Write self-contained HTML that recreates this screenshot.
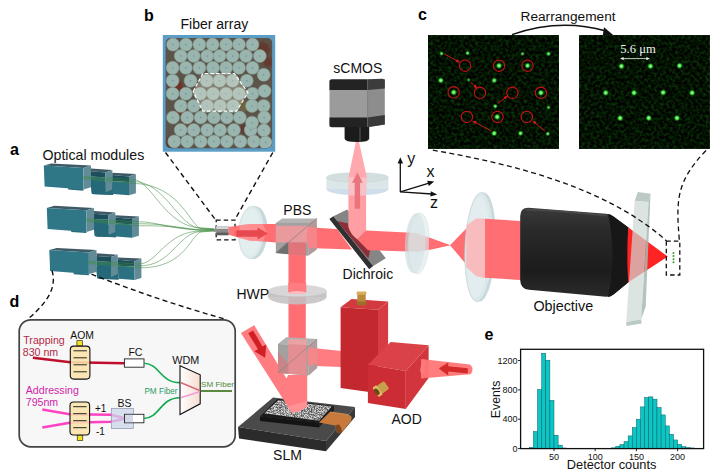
<!DOCTYPE html>
<html><head><meta charset="utf-8"><title>Figure</title>
<style>html,body{margin:0;padding:0;background:#fff;}svg{display:block;}</style></head>
<body>
<svg width="723" height="475" viewBox="0 0 723 475">
<defs>
<filter id="gnoise" x="0" y="0" width="100%" height="100%" color-interpolation-filters="sRGB">
  <feTurbulence type="fractalNoise" baseFrequency="0.33" numOctaves="2" seed="7" result="n"/>
  <feColorMatrix in="n" type="matrix" values="0.1 0 0 0 -0.035  0.5 0 0 0 -0.175  0.08 0 0 0 -0.03  0 0 0 0 1"/>
</filter>
<filter id="slmnoise" x="0" y="0" width="100%" height="100%" color-interpolation-filters="sRGB">
  <feTurbulence type="fractalNoise" baseFrequency="1.3" numOctaves="1" seed="11" result="n"/>
  <feColorMatrix in="n" type="matrix" values="3 0 0 0 -1.0  3 0 0 0 -1.0  3 0 0 0 -1.0  0 0 0 0 1"/>
  <feComposite in2="SourceGraphic" operator="in"/>
</filter>
<filter id="blur1"><feGaussianBlur stdDeviation="0.7"/></filter>
<filter id="blur05"><feGaussianBlur stdDeviation="0.45"/></filter>
<filter id="blur2"><feGaussianBlur stdDeviation="1.2"/></filter>
<radialGradient id="spot"><stop offset="0" stop-color="#c8ffc0"/><stop offset="0.45" stop-color="#3fe23f"/><stop offset="1" stop-color="#0a4a0a" stop-opacity="0"/></radialGradient>
<linearGradient id="objg" x1="0" y1="0" x2="0" y2="1"><stop offset="0" stop-color="#3a3a3a"/><stop offset="0.25" stop-color="#2a2a2a"/><stop offset="0.7" stop-color="#1c1c1c"/><stop offset="1" stop-color="#2b2b2b"/></linearGradient>
<linearGradient id="wdmg" x1="0" y1="0" x2="1" y2="0"><stop offset="0" stop-color="#ffffff"/><stop offset="1" stop-color="#f6dcd0"/></linearGradient>
<linearGradient id="lensg" x1="0" y1="0" x2="1" y2="1"><stop offset="0" stop-color="#e6eff0"/><stop offset="1" stop-color="#c9dadc"/></linearGradient>
<clipPath id="fibclip"><rect x="166" y="38" width="106" height="110" rx="5"/></clipPath>
</defs>
<rect width="723" height="475" fill="#fff"/>
<text x="144" y="20.5" font-family='"Liberation Sans", sans-serif' font-size="16" font-weight="bold" fill="#000" text-anchor="start" >b</text>
<text x="10" y="155" font-family='"Liberation Sans", sans-serif' font-size="16" font-weight="bold" fill="#000" text-anchor="start" >a</text>
<text x="418" y="20" font-family='"Liberation Sans", sans-serif' font-size="16" font-weight="bold" fill="#000" text-anchor="start" >c</text>
<text x="9.5" y="306.5" font-family='"Liberation Sans", sans-serif' font-size="16" font-weight="bold" fill="#000" text-anchor="start" >d</text>
<text x="484.5" y="339.8" font-family='"Liberation Sans", sans-serif' font-size="16" font-weight="bold" fill="#000" text-anchor="start" >e</text>
<text x="180.5" y="29" font-family='"Liberation Sans", sans-serif' font-size="14" font-weight="normal" fill="#111" text-anchor="start" >Fiber array</text>
<rect x="162.8" y="35" width="112.4" height="116.7" fill="#5b9dc4"/>
<rect x="165.7" y="38.3" width="106.4" height="110" rx="5" fill="#4b3a30"/>
<g clip-path="url(#fibclip)">
<rect x="165" y="38" width="108" height="111" fill="#57483c"/>
<g filter="url(#blur2)"><circle cx="176" cy="86" r="7" fill="#6b2418"/><circle cx="181" cy="110" r="6" fill="#6b2a1a"/><circle cx="262" cy="50" r="8" fill="#5f2a1e"/><circle cx="243" cy="106" r="6" fill="#6a5a30"/><circle cx="244" cy="129" r="5" fill="#5a2a20"/><circle cx="170" cy="142" r="5" fill="#5a2a20"/><circle cx="268" cy="62" r="5" fill="#5f2a1e"/><circle cx="188" cy="122" r="4" fill="#6a3a20"/></g>
<g filter="url(#blur05)">
<circle cx="173" cy="44.6" r="6.5" fill="#9cb8ad" stroke="#80998f" stroke-width="0.5"/>
<circle cx="185.9" cy="44.6" r="6.5" fill="#9cb8ad" stroke="#80998f" stroke-width="0.5"/>
<circle cx="199.4" cy="44.6" r="6.5" fill="#9cb8ad" stroke="#80998f" stroke-width="0.5"/>
<circle cx="212.6" cy="44.6" r="6.5" fill="#9cb8ad" stroke="#80998f" stroke-width="0.5"/>
<circle cx="226.1" cy="44.6" r="6.5" fill="#9cb8ad" stroke="#80998f" stroke-width="0.5"/>
<circle cx="239" cy="44.6" r="6.5" fill="#9cb8ad" stroke="#80998f" stroke-width="0.5"/>
<circle cx="252.5" cy="44.6" r="6.5" fill="#9cb8ad" stroke="#80998f" stroke-width="0.5"/>
<circle cx="180.7" cy="56" r="6.5" fill="#9cb8ad" stroke="#80998f" stroke-width="0.5"/>
<circle cx="193.7" cy="56" r="6.5" fill="#9cb8ad" stroke="#80998f" stroke-width="0.5"/>
<circle cx="207.2" cy="56" r="6.5" fill="#9cb8ad" stroke="#80998f" stroke-width="0.5"/>
<circle cx="219.6" cy="56" r="6.5" fill="#9cb8ad" stroke="#80998f" stroke-width="0.5"/>
<circle cx="232.6" cy="56" r="6.5" fill="#9cb8ad" stroke="#80998f" stroke-width="0.5"/>
<circle cx="246" cy="56" r="6.5" fill="#9cb8ad" stroke="#80998f" stroke-width="0.5"/>
<circle cx="259.8" cy="56" r="6.5" fill="#9cb8ad" stroke="#80998f" stroke-width="0.5"/>
<circle cx="172.6" cy="67.8" r="6.5" fill="#9cb8ad" stroke="#80998f" stroke-width="0.5"/>
<circle cx="185.9" cy="67.8" r="6.5" fill="#9cb8ad" stroke="#80998f" stroke-width="0.5"/>
<circle cx="199.4" cy="67.8" r="6.5" fill="#9cb8ad" stroke="#80998f" stroke-width="0.5"/>
<circle cx="213" cy="67.8" r="6.5" fill="#9cb8ad" stroke="#80998f" stroke-width="0.5"/>
<circle cx="226.1" cy="67.8" r="6.5" fill="#9cb8ad" stroke="#80998f" stroke-width="0.5"/>
<circle cx="239" cy="67.8" r="6.5" fill="#9cb8ad" stroke="#80998f" stroke-width="0.5"/>
<circle cx="252.5" cy="67.8" r="6.5" fill="#9cb8ad" stroke="#80998f" stroke-width="0.5"/>
<circle cx="172.6" cy="80.7" r="6.5" fill="#9cb8ad" stroke="#80998f" stroke-width="0.5"/>
<circle cx="190.6" cy="80.7" r="6.5" fill="#9cb8ad" stroke="#80998f" stroke-width="0.5"/>
<circle cx="206.7" cy="80.7" r="6.5" fill="#9cb8ad" stroke="#80998f" stroke-width="0.5"/>
<circle cx="219.6" cy="80.7" r="6.5" fill="#9cb8ad" stroke="#80998f" stroke-width="0.5"/>
<circle cx="232.6" cy="80.7" r="6.5" fill="#9cb8ad" stroke="#80998f" stroke-width="0.5"/>
<circle cx="246.8" cy="80.7" r="6.5" fill="#9cb8ad" stroke="#80998f" stroke-width="0.5"/>
<circle cx="172.6" cy="93.7" r="6.5" fill="#9cb8ad" stroke="#80998f" stroke-width="0.5"/>
<circle cx="185.9" cy="93.7" r="6.5" fill="#9cb8ad" stroke="#80998f" stroke-width="0.5"/>
<circle cx="200.2" cy="93.7" r="6.5" fill="#9cb8ad" stroke="#80998f" stroke-width="0.5"/>
<circle cx="213.1" cy="93.7" r="6.5" fill="#9cb8ad" stroke="#80998f" stroke-width="0.5"/>
<circle cx="226.1" cy="93.7" r="6.5" fill="#9cb8ad" stroke="#80998f" stroke-width="0.5"/>
<circle cx="239" cy="93.7" r="6.5" fill="#9cb8ad" stroke="#80998f" stroke-width="0.5"/>
<circle cx="252.5" cy="93.7" r="6.5" fill="#9cb8ad" stroke="#80998f" stroke-width="0.5"/>
<circle cx="180.7" cy="105.9" r="6.5" fill="#9cb8ad" stroke="#80998f" stroke-width="0.5"/>
<circle cx="193.7" cy="105.9" r="6.5" fill="#9cb8ad" stroke="#80998f" stroke-width="0.5"/>
<circle cx="207.2" cy="105.9" r="6.5" fill="#9cb8ad" stroke="#80998f" stroke-width="0.5"/>
<circle cx="220.1" cy="105.9" r="6.5" fill="#9cb8ad" stroke="#80998f" stroke-width="0.5"/>
<circle cx="233.1" cy="105.9" r="6.5" fill="#9cb8ad" stroke="#80998f" stroke-width="0.5"/>
<circle cx="252" cy="105.9" r="6.5" fill="#9cb8ad" stroke="#80998f" stroke-width="0.5"/>
<circle cx="263.7" cy="105.9" r="6.5" fill="#9cb8ad" stroke="#80998f" stroke-width="0.5"/>
<circle cx="173" cy="117.5" r="6.5" fill="#9cb8ad" stroke="#80998f" stroke-width="0.5"/>
<circle cx="187.2" cy="117.5" r="6.5" fill="#9cb8ad" stroke="#80998f" stroke-width="0.5"/>
<circle cx="200.7" cy="117.5" r="6.5" fill="#9cb8ad" stroke="#80998f" stroke-width="0.5"/>
<circle cx="213.9" cy="117.5" r="6.5" fill="#9cb8ad" stroke="#80998f" stroke-width="0.5"/>
<circle cx="226.9" cy="117.5" r="6.5" fill="#9cb8ad" stroke="#80998f" stroke-width="0.5"/>
<circle cx="239.8" cy="117.5" r="6.5" fill="#9cb8ad" stroke="#80998f" stroke-width="0.5"/>
<circle cx="180.7" cy="130" r="6.5" fill="#9cb8ad" stroke="#80998f" stroke-width="0.5"/>
<circle cx="193.7" cy="130" r="6.5" fill="#9cb8ad" stroke="#80998f" stroke-width="0.5"/>
<circle cx="207.2" cy="130" r="6.5" fill="#9cb8ad" stroke="#80998f" stroke-width="0.5"/>
<circle cx="220.1" cy="130" r="6.5" fill="#9cb8ad" stroke="#80998f" stroke-width="0.5"/>
<circle cx="233.9" cy="130" r="6.5" fill="#9cb8ad" stroke="#80998f" stroke-width="0.5"/>
<circle cx="250.7" cy="130" r="6.5" fill="#9cb8ad" stroke="#80998f" stroke-width="0.5"/>
<circle cx="174.3" cy="141.4" r="6.5" fill="#9cb8ad" stroke="#80998f" stroke-width="0.5"/>
<circle cx="187.2" cy="141.4" r="6.5" fill="#9cb8ad" stroke="#80998f" stroke-width="0.5"/>
<circle cx="200.7" cy="141.4" r="6.5" fill="#9cb8ad" stroke="#80998f" stroke-width="0.5"/>
<circle cx="213.9" cy="141.4" r="6.5" fill="#9cb8ad" stroke="#80998f" stroke-width="0.5"/>
<circle cx="226.9" cy="141.4" r="6.5" fill="#9cb8ad" stroke="#80998f" stroke-width="0.5"/>
<circle cx="240.4" cy="141.4" r="6.5" fill="#9cb8ad" stroke="#80998f" stroke-width="0.5"/>
<circle cx="253.8" cy="141.4" r="6.5" fill="#9cb8ad" stroke="#80998f" stroke-width="0.5"/>
<circle cx="263.7" cy="74.8" r="6.5" fill="#9cb8ad" stroke="#80998f" stroke-width="0.5"/>
<circle cx="264.5" cy="91" r="6.5" fill="#9cb8ad" stroke="#80998f" stroke-width="0.5"/>
<circle cx="252" cy="122.7" r="6.5" fill="#9cb8ad" stroke="#80998f" stroke-width="0.5"/>
<circle cx="264.2" cy="117.4" r="6.5" fill="#9cb8ad" stroke="#80998f" stroke-width="0.5"/>
<circle cx="263.9" cy="130.3" r="6.5" fill="#9cb8ad" stroke="#80998f" stroke-width="0.5"/>
<circle cx="265.6" cy="142.6" r="6.5" fill="#9cb8ad" stroke="#80998f" stroke-width="0.5"/>
</g>
<circle cx="173" cy="44.6" r="0.75" fill="#5a78a8" opacity="0.75"/>
<circle cx="185.9" cy="44.6" r="0.75" fill="#5a78a8" opacity="0.75"/>
<circle cx="199.4" cy="44.6" r="0.75" fill="#5a78a8" opacity="0.75"/>
<circle cx="212.6" cy="44.6" r="0.75" fill="#5a78a8" opacity="0.75"/>
<circle cx="226.1" cy="44.6" r="0.75" fill="#5a78a8" opacity="0.75"/>
<circle cx="239" cy="44.6" r="0.75" fill="#5a78a8" opacity="0.75"/>
<circle cx="252.5" cy="44.6" r="0.75" fill="#5a78a8" opacity="0.75"/>
<circle cx="180.7" cy="56" r="0.75" fill="#5a78a8" opacity="0.75"/>
<circle cx="193.7" cy="56" r="0.75" fill="#5a78a8" opacity="0.75"/>
<circle cx="207.2" cy="56" r="0.75" fill="#5a78a8" opacity="0.75"/>
<circle cx="219.6" cy="56" r="0.75" fill="#5a78a8" opacity="0.75"/>
<circle cx="232.6" cy="56" r="0.75" fill="#5a78a8" opacity="0.75"/>
<circle cx="246" cy="56" r="0.75" fill="#5a78a8" opacity="0.75"/>
<circle cx="259.8" cy="56" r="0.75" fill="#5a78a8" opacity="0.75"/>
<circle cx="172.6" cy="67.8" r="0.75" fill="#5a78a8" opacity="0.75"/>
<circle cx="185.9" cy="67.8" r="0.75" fill="#5a78a8" opacity="0.75"/>
<circle cx="199.4" cy="67.8" r="0.75" fill="#5a78a8" opacity="0.75"/>
<circle cx="213" cy="67.8" r="0.75" fill="#5a78a8" opacity="0.75"/>
<circle cx="226.1" cy="67.8" r="0.75" fill="#5a78a8" opacity="0.75"/>
<circle cx="239" cy="67.8" r="0.75" fill="#5a78a8" opacity="0.75"/>
<circle cx="252.5" cy="67.8" r="0.75" fill="#5a78a8" opacity="0.75"/>
<circle cx="172.6" cy="80.7" r="0.75" fill="#5a78a8" opacity="0.75"/>
<circle cx="190.6" cy="80.7" r="0.75" fill="#5a78a8" opacity="0.75"/>
<circle cx="206.7" cy="80.7" r="0.75" fill="#5a78a8" opacity="0.75"/>
<circle cx="219.6" cy="80.7" r="0.75" fill="#5a78a8" opacity="0.75"/>
<circle cx="232.6" cy="80.7" r="0.75" fill="#5a78a8" opacity="0.75"/>
<circle cx="246.8" cy="80.7" r="0.75" fill="#5a78a8" opacity="0.75"/>
<circle cx="172.6" cy="93.7" r="0.75" fill="#5a78a8" opacity="0.75"/>
<circle cx="185.9" cy="93.7" r="0.75" fill="#5a78a8" opacity="0.75"/>
<circle cx="200.2" cy="93.7" r="0.75" fill="#5a78a8" opacity="0.75"/>
<circle cx="213.1" cy="93.7" r="0.75" fill="#5a78a8" opacity="0.75"/>
<circle cx="226.1" cy="93.7" r="0.75" fill="#5a78a8" opacity="0.75"/>
<circle cx="239" cy="93.7" r="0.75" fill="#5a78a8" opacity="0.75"/>
<circle cx="252.5" cy="93.7" r="0.75" fill="#5a78a8" opacity="0.75"/>
<circle cx="180.7" cy="105.9" r="0.75" fill="#5a78a8" opacity="0.75"/>
<circle cx="193.7" cy="105.9" r="0.75" fill="#5a78a8" opacity="0.75"/>
<circle cx="207.2" cy="105.9" r="0.75" fill="#5a78a8" opacity="0.75"/>
<circle cx="220.1" cy="105.9" r="0.75" fill="#5a78a8" opacity="0.75"/>
<circle cx="233.1" cy="105.9" r="0.75" fill="#5a78a8" opacity="0.75"/>
<circle cx="252" cy="105.9" r="0.75" fill="#5a78a8" opacity="0.75"/>
<circle cx="263.7" cy="105.9" r="0.75" fill="#5a78a8" opacity="0.75"/>
<circle cx="173" cy="117.5" r="0.75" fill="#5a78a8" opacity="0.75"/>
<circle cx="187.2" cy="117.5" r="0.75" fill="#5a78a8" opacity="0.75"/>
<circle cx="200.7" cy="117.5" r="0.75" fill="#5a78a8" opacity="0.75"/>
<circle cx="213.9" cy="117.5" r="0.75" fill="#5a78a8" opacity="0.75"/>
<circle cx="226.9" cy="117.5" r="0.75" fill="#5a78a8" opacity="0.75"/>
<circle cx="239.8" cy="117.5" r="0.75" fill="#5a78a8" opacity="0.75"/>
<circle cx="180.7" cy="130" r="0.75" fill="#5a78a8" opacity="0.75"/>
<circle cx="193.7" cy="130" r="0.75" fill="#5a78a8" opacity="0.75"/>
<circle cx="207.2" cy="130" r="0.75" fill="#5a78a8" opacity="0.75"/>
<circle cx="220.1" cy="130" r="0.75" fill="#5a78a8" opacity="0.75"/>
<circle cx="233.9" cy="130" r="0.75" fill="#5a78a8" opacity="0.75"/>
<circle cx="250.7" cy="130" r="0.75" fill="#5a78a8" opacity="0.75"/>
<circle cx="174.3" cy="141.4" r="0.75" fill="#5a78a8" opacity="0.75"/>
<circle cx="187.2" cy="141.4" r="0.75" fill="#5a78a8" opacity="0.75"/>
<circle cx="200.7" cy="141.4" r="0.75" fill="#5a78a8" opacity="0.75"/>
<circle cx="213.9" cy="141.4" r="0.75" fill="#5a78a8" opacity="0.75"/>
<circle cx="226.9" cy="141.4" r="0.75" fill="#5a78a8" opacity="0.75"/>
<circle cx="240.4" cy="141.4" r="0.75" fill="#5a78a8" opacity="0.75"/>
<circle cx="253.8" cy="141.4" r="0.75" fill="#5a78a8" opacity="0.75"/>
<circle cx="263.7" cy="74.8" r="0.75" fill="#5a78a8" opacity="0.75"/>
<circle cx="264.5" cy="91" r="0.75" fill="#5a78a8" opacity="0.75"/>
<circle cx="252" cy="122.7" r="0.75" fill="#5a78a8" opacity="0.75"/>
<circle cx="264.2" cy="117.4" r="0.75" fill="#5a78a8" opacity="0.75"/>
<circle cx="263.9" cy="130.3" r="0.75" fill="#5a78a8" opacity="0.75"/>
<circle cx="265.6" cy="142.6" r="0.75" fill="#5a78a8" opacity="0.75"/>
<rect x="165" y="38" width="108" height="111" fill="#8aa6b0" opacity="0.12"/>
</g>
<polygon points="193.2,91.5 202.8,73.5 234.2,73.5 248.0,92.6 236.5,111.1 202.8,111.1" fill="#f3efe0" stroke="#ffffff" stroke-width="1.2" opacity="1" fill-opacity="0.28" stroke-dasharray="3.6,2"/>
<path d="M165.5,152.5 L215.8,220.2 M272.8,152.5 L235,219.5" stroke="#111" stroke-width="1.4" stroke-dasharray="5,3.6" fill="none"/>
<rect x="216.2" y="220.1" width="18.8" height="19.8" fill="none" stroke="#111" stroke-width="1.3" stroke-dasharray="4.5,3"/>
<text x="42.5" y="159.8" font-family='"Liberation Sans", sans-serif' font-size="14.2" font-weight="normal" fill="#111" text-anchor="start" >Optical modules</text>
<polygon points="91.0,182.3 113.1,182.3 113.1,194.8 91.8,193.9" fill="#286b7a" stroke="none" stroke-width="0" opacity="1" />
<polygon points="68.2,187.5 83.4,189.1 83.4,190.7 68.2,189.6" fill="#2a6a79" stroke="none" stroke-width="0" opacity="1" />
<polygon points="43.8,165.5 51.4,163.4 91.0,165.5 83.4,167.9" fill="#3f5a66" stroke="none" stroke-width="0" opacity="1" />
<polygon points="43.8,165.5 83.4,167.9 83.4,189.5 44.6,186.5" fill="#2f7787" stroke="none" stroke-width="0" opacity="1" />
<polygon points="83.4,167.9 91.0,165.5 91.0,187.3 83.4,189.5" fill="#618c97" stroke="none" stroke-width="0" opacity="1" />
<polygon points="91.0,168.6 112.3,170.1 105.5,172.5 91.0,171.3" fill="#3f5a66" stroke="none" stroke-width="0" opacity="1" />
<polygon points="91.0,171.3 105.5,172.5 105.5,177.4 91.0,176.6" fill="#1c4e5b" stroke="none" stroke-width="0" opacity="1" />
<polygon points="91.0,176.6 105.5,177.4 105.5,192.3 91.8,193.3 91.0,187.3" fill="#256877" stroke="none" stroke-width="0" opacity="1" />
<polygon points="105.5,172.5 112.3,170.1 112.3,189.5 105.5,192.3" fill="#618c97" stroke="none" stroke-width="0" opacity="1" />
<polygon points="91.8,192.9 113.1,193.7 113.1,194.9 93.8,194.3" fill="#2a6a79" stroke="none" stroke-width="0" opacity="1" />
<polygon points="112.3,172.8 135.9,174.0 129.0,176.6 112.3,175.1" fill="#3f5a66" stroke="none" stroke-width="0" opacity="1" />
<polygon points="112.3,175.1 129.0,176.6 129.0,181.9 112.3,181.2" fill="#1c4e5b" stroke="none" stroke-width="0" opacity="1" />
<polygon points="112.3,181.2 129.0,181.9 129.0,195.3 113.1,194.1" fill="#2b7181" stroke="none" stroke-width="0" opacity="1" />
<polygon points="129.0,176.6 135.9,174.0 135.9,193.3 129.0,195.3" fill="#618c97" stroke="none" stroke-width="0" opacity="1" />
<polygon points="94.0,224.7 116.1,224.7 116.1,237.2 94.8,236.3" fill="#286b7a" stroke="none" stroke-width="0" opacity="1" />
<polygon points="71.2,229.9 86.4,231.5 86.4,233.1 71.2,232.0" fill="#2a6a79" stroke="none" stroke-width="0" opacity="1" />
<polygon points="46.8,207.9 54.4,205.8 94.0,207.9 86.4,210.3" fill="#3f5a66" stroke="none" stroke-width="0" opacity="1" />
<polygon points="46.8,207.9 86.4,210.3 86.4,231.9 47.6,228.9" fill="#2f7787" stroke="none" stroke-width="0" opacity="1" />
<polygon points="86.4,210.3 94.0,207.9 94.0,229.7 86.4,231.9" fill="#618c97" stroke="none" stroke-width="0" opacity="1" />
<polygon points="94.0,210.9 115.3,212.5 108.5,214.9 94.0,213.7" fill="#3f5a66" stroke="none" stroke-width="0" opacity="1" />
<polygon points="94.0,213.7 108.5,214.9 108.5,219.8 94.0,219.0" fill="#1c4e5b" stroke="none" stroke-width="0" opacity="1" />
<polygon points="94.0,219.0 108.5,219.8 108.5,234.7 94.8,235.7 94.0,229.7" fill="#256877" stroke="none" stroke-width="0" opacity="1" />
<polygon points="108.5,214.9 115.3,212.5 115.3,231.9 108.5,234.7" fill="#618c97" stroke="none" stroke-width="0" opacity="1" />
<polygon points="94.8,235.3 116.1,236.1 116.1,237.3 96.8,236.7" fill="#2a6a79" stroke="none" stroke-width="0" opacity="1" />
<polygon points="115.3,215.2 138.9,216.4 132.0,219.0 115.3,217.5" fill="#3f5a66" stroke="none" stroke-width="0" opacity="1" />
<polygon points="115.3,217.5 132.0,219.0 132.0,224.3 115.3,223.6" fill="#1c4e5b" stroke="none" stroke-width="0" opacity="1" />
<polygon points="115.3,223.6 132.0,224.3 132.0,237.7 116.1,236.5" fill="#2b7181" stroke="none" stroke-width="0" opacity="1" />
<polygon points="132.0,219.0 138.9,216.4 138.9,235.7 132.0,237.7" fill="#618c97" stroke="none" stroke-width="0" opacity="1" />
<polygon points="96.5,266.9 118.6,266.9 118.6,279.4 97.3,278.5" fill="#286b7a" stroke="none" stroke-width="0" opacity="1" />
<polygon points="73.7,272.1 88.9,273.7 88.9,275.3 73.7,274.2" fill="#2a6a79" stroke="none" stroke-width="0" opacity="1" />
<polygon points="49.3,250.1 56.9,248.0 96.5,250.1 88.9,252.5" fill="#3f5a66" stroke="none" stroke-width="0" opacity="1" />
<polygon points="49.3,250.1 88.9,252.5 88.9,274.1 50.1,271.1" fill="#2f7787" stroke="none" stroke-width="0" opacity="1" />
<polygon points="88.9,252.5 96.5,250.1 96.5,271.9 88.9,274.1" fill="#618c97" stroke="none" stroke-width="0" opacity="1" />
<polygon points="96.5,253.2 117.8,254.7 111.0,257.1 96.5,255.9" fill="#3f5a66" stroke="none" stroke-width="0" opacity="1" />
<polygon points="96.5,255.9 111.0,257.1 111.0,262.0 96.5,261.2" fill="#1c4e5b" stroke="none" stroke-width="0" opacity="1" />
<polygon points="96.5,261.2 111.0,262.0 111.0,276.9 97.3,277.9 96.5,271.9" fill="#256877" stroke="none" stroke-width="0" opacity="1" />
<polygon points="111.0,257.1 117.8,254.7 117.8,274.1 111.0,276.9" fill="#618c97" stroke="none" stroke-width="0" opacity="1" />
<polygon points="97.3,277.5 118.6,278.3 118.6,279.5 99.3,278.9" fill="#2a6a79" stroke="none" stroke-width="0" opacity="1" />
<polygon points="117.8,257.4 141.4,258.6 134.5,261.2 117.8,259.7" fill="#3f5a66" stroke="none" stroke-width="0" opacity="1" />
<polygon points="117.8,259.7 134.5,261.2 134.5,266.5 117.8,265.8" fill="#1c4e5b" stroke="none" stroke-width="0" opacity="1" />
<polygon points="117.8,265.8 134.5,266.5 134.5,279.9 118.6,278.7" fill="#2b7181" stroke="none" stroke-width="0" opacity="1" />
<polygon points="134.5,261.2 141.4,258.6 141.4,277.9 134.5,279.9" fill="#618c97" stroke="none" stroke-width="0" opacity="1" />
<path d="M83.4,176.5 L132.9,179.3 C151.9,180.3 165.0,227.9 202.0,227.9 L214.5,228.8" stroke="#3f8a3f" stroke-width="0.6" fill="none" opacity="0.9"/>
<path d="M83.4,177.7 L132.9,181.3 C166.9,182.3 178.0,228.4 202.0,228.4 L214.5,229.1" stroke="#3f8a3f" stroke-width="0.6" fill="none" opacity="0.9"/>
<path d="M83.4,178.9 L132.9,183.3 C181.9,184.3 191.0,228.9 202.0,228.9 L214.5,229.4" stroke="#3f8a3f" stroke-width="0.6" fill="none" opacity="0.9"/>
<path d="M86.4,218.9 L135.9,221.7 C160.9,221.7 165.0,229.4 202.0,229.4 L214.5,229.6" stroke="#3f8a3f" stroke-width="0.6" fill="none" opacity="0.9"/>
<path d="M86.4,220.1 L135.9,223.7 C175.9,223.7 178.0,229.9 202.0,229.9 L214.5,229.9" stroke="#3f8a3f" stroke-width="0.6" fill="none" opacity="0.9"/>
<path d="M86.4,221.3 L135.9,225.7 C190.9,225.7 191.0,230.4 202.0,230.4 L214.5,230.2" stroke="#3f8a3f" stroke-width="0.6" fill="none" opacity="0.9"/>
<path d="M88.9,261.1 L138.4,263.9 C157.4,264.9 165.0,230.9 202.0,230.9 L214.5,230.4" stroke="#3f8a3f" stroke-width="0.6" fill="none" opacity="0.9"/>
<path d="M88.9,262.3 L138.4,265.9 C172.4,266.9 178.0,231.4 202.0,231.4 L214.5,230.7" stroke="#3f8a3f" stroke-width="0.6" fill="none" opacity="0.9"/>
<path d="M88.9,263.5 L138.4,267.9 C187.4,268.9 191.0,231.9 202.0,231.9 L214.5,231.0" stroke="#3f8a3f" stroke-width="0.6" fill="none" opacity="0.9"/>
<rect x="213.5" y="229.2" width="3" height="2.6" fill="#8c8c8c"/>
<rect x="216.2" y="226.2" width="12.4" height="9" fill="#8a8a8a"/>
<rect x="216.2" y="226.2" width="12.4" height="2.8" fill="#d4d4d4"/>
<rect x="216.2" y="232.6" width="12.4" height="2.6" fill="#5c5c5c"/>
<ellipse cx="254.4" cy="232.6" rx="13.2" ry="26.4" fill="#c6d8da" transform="rotate(3 254.4 232.6)"/>
<ellipse cx="251.4" cy="232.4" rx="12.8" ry="26.2" fill="#dde9ea" stroke="#c9d8da" stroke-width="0.6" transform="rotate(3 251.4 232.4)"/>
<ellipse cx="250.6" cy="232.4" rx="10.8" ry="23.6" fill="#e6efef" opacity="0.7" transform="rotate(3 250.6 232.4)"/>
<polygon points="228.6,226.9 249.0,224.1 249.0,240.5 228.6,234.8" fill="#ff6a6e" stroke="none" stroke-width="0" opacity="0.92" />
<polygon points="239.5,225.4 249.0,224.1 249.0,240.5 239.5,238.4" fill="#ffb0b2" stroke="none" stroke-width="0" opacity="0.5" />
<polygon points="249.0,224.1 276.0,224.1 276.0,242.4 249.0,240.5" fill="#ff6e72" stroke="none" stroke-width="0" opacity="1" />
<polygon points="249.0,224.1 263.0,224.1 266.4,232.5 263.0,241.6 249.0,240.5" fill="#ffa6a8" stroke="none" stroke-width="0" opacity="0.55" />
<polygon points="236.3,230.2 257.6,230.2 257.6,227.4 267.9,233.4 257.6,239.5 257.6,236.8 236.3,236.8" fill="#e5434a" stroke="none" stroke-width="0" opacity="0.92" />
<polygon points="288.5,250.0 305.8,250.0 305.8,345.0 288.5,345.0" fill="#ff6e72" stroke="none" stroke-width="0" opacity="1" />
<polygon points="308.0,227.2 337.0,229.0 352.0,249.6 308.0,247.9" fill="#ff6e72" stroke="none" stroke-width="0" opacity="1" />
<polygon points="333.4,216.3 347.1,209.5 385.8,258.2 373.2,266.1" fill="#858585" stroke="none" stroke-width="0" opacity="1" />
<polygon points="337.0,221.0 348.4,223.5 348.4,227.0 357.5,239.0 370.0,250.5 368.4,258.6" fill="#8c2f38" stroke="none" stroke-width="0" opacity="1" />
<path d="M348.4,186 H366.1 V230.6 L357.5,239.5 Q350,234 348.4,226.5 Z" fill="#ff9fa4"/>
<polygon points="366.1,230.5 417.0,233.0 417.0,251.8 368.0,250.2 357.5,239.5" fill="#ff6e72" stroke="none" stroke-width="0" opacity="1" />
<polygon points="329.3,219.0 333.4,216.3 373.2,266.1 369.2,269.2" fill="#303030" stroke="none" stroke-width="0" opacity="1" />
<text x="342.6" y="279.1" font-family='"Liberation Sans", sans-serif' font-size="14" font-weight="normal" fill="#111" text-anchor="start" >Dichroic</text>
<polygon points="275.8,223.1 282.1,218.4 316.9,218.4 308.2,223.1" fill="#b4b4b4" stroke="none" stroke-width="0" opacity="1" />
<polygon points="275.8,223.1 308.2,223.1 308.2,255.8 275.8,253.1" fill="#a2a0a0" stroke="none" stroke-width="0" opacity="1" />
<polygon points="308.2,223.1 316.9,218.4 316.9,249.5 308.2,255.8" fill="#b09a9a" stroke="none" stroke-width="0" opacity="1" />
<polygon points="275.8,253.1 288.5,241.0 288.5,254.2" fill="#6f6f6f" stroke="none" stroke-width="0" opacity="1" />
<polygon points="275.8,225.8 308.2,225.8 308.2,242.4 275.8,242.4" fill="#e89a9c" stroke="none" stroke-width="0" opacity="1" />
<polygon points="288.5,242.4 305.8,242.4 305.8,255.6 288.5,254.2" fill="#e07478" stroke="none" stroke-width="0" opacity="1" />
<path d="M308.2,226.8 L316.9,227.6 L316.9,247.6 L308.2,248.4 Q305.4,237.5 308.2,226.8Z" fill="#f58588"/>
<line x1="275.8" y1="253.1" x2="316.9" y2="218.4" stroke="#8d7f7f" stroke-width="0.9" opacity="0.8"/>
<text x="283.3" y="215.3" font-family='"Liberation Sans", sans-serif' font-size="14" font-weight="normal" fill="#111" text-anchor="start" >PBS</text>
<ellipse cx="297.3" cy="296.8" rx="29.3" ry="7.6" fill="#c4c1c1" opacity="0.88"/>
<rect x="268" y="290.6" width="58.6" height="6.2" fill="#c4c1c1" opacity="0.88"/>
<ellipse cx="297.3" cy="290.6" rx="29.3" ry="5.8" fill="#d8d6d6"/>
<path d="M288.2,283 H306.3 V291.2 Q306.3,294 297.3,294 Q288.2,294 288.2,291.2 Z" fill="#ff7c80"/>
<ellipse cx="297.3" cy="292.6" rx="8" ry="1.6" fill="#ffc9cb" opacity="0.8"/>
<text x="236.4" y="298.5" font-family='"Liberation Sans", sans-serif' font-size="14" font-weight="normal" fill="#111" text-anchor="start" >HWP</text>
<ellipse cx="357.4" cy="189" rx="31" ry="6.3" fill="#cfdeea"/>
<rect x="326.4" y="177.4" width="62" height="11.6" fill="#dbe6e8"/>
<ellipse cx="357.4" cy="177.4" rx="31" ry="4.8" fill="#d3dfde" stroke="#c3d0d0" stroke-width="0.5"/>
<polygon points="348.5,177.0 366.9,177.0 366.1,195.5 348.4,195.5" fill="#fbbfc3" stroke="none" stroke-width="0" opacity="0.92" />
<polygon points="355.9,141.6 358.9,141.6 366.9,177.4 348.5,177.4" fill="#ffa8ad" stroke="none" stroke-width="0" opacity="1" />
<polygon points="354.7,208.7 360.1,208.7 360.1,182.8 362.8,182.8 357.4,172.6 352.0,182.8 354.7,182.8" fill="#e8727a" stroke="none" stroke-width="0" opacity="0.95" />
<polygon points="329.5,80.0 367.6,80.0 367.6,127.0 329.5,127.0" fill="#9b9b9b" stroke="none" stroke-width="0" opacity="1" />
<polygon points="367.6,80.0 384.8,79.0 384.8,124.5 367.6,127.0" fill="#8d8d8d" stroke="none" stroke-width="0" opacity="1" />
<path d="M329.5,90 V81.6 Q329.5,79.3 332,79.3 H367.6 V90 Z" fill="#232323"/>
<polygon points="367.6,79.3 382.8,78.8 384.8,80.0 384.8,88.4 367.6,90.0" fill="#3c3c3c" stroke="none" stroke-width="0" opacity="1" />
<path d="M329.5,117.6 H367.6 V127.2 H332 Q329.5,127.2 329.5,125 Z" fill="#232323"/>
<polygon points="367.6,117.6 384.8,115.0 384.8,124.5 367.6,127.2" fill="#3a3a3a" stroke="none" stroke-width="0" opacity="1" />
<line x1="367.6" y1="79.5" x2="367.6" y2="127" stroke="#6a6a6a" stroke-width="0.7"/>
<path d="M344.6,127 H369.2 V138.5 Q369.2,142 357,142 Q344.6,142 344.6,138.5 Z" fill="#1b1b1b"/>
<rect x="359" y="127.2" width="2" height="14" fill="#3a3a3a"/>
<text x="333.3" y="72.6" font-family='"Liberation Sans", sans-serif' font-size="14" font-weight="normal" fill="#111" text-anchor="start" >sCMOS</text>
<g stroke="#111" stroke-width="1.3" fill="none"><path d="M400.3,192 V161"/><path d="M400.3,191.8 L429,183.2"/><path d="M400.3,191.8 L432,194"/></g>
<polygon points="400.3,157.3 397.6,163.5 403.0,163.5" fill="#111" stroke="none" stroke-width="0" opacity="1" />
<polygon points="434.2,181.6 427.2,180.8 428.8,186.0" fill="#111" stroke="none" stroke-width="0" opacity="1" />
<polygon points="437.2,194.4 430.8,191.2 430.4,196.6" fill="#111" stroke="none" stroke-width="0" opacity="1" />
<text x="407.2" y="164" font-family='"Liberation Sans", sans-serif' font-size="16" font-weight="normal" fill="#111" text-anchor="start" >y</text>
<text x="426.6" y="176.8" font-family='"Liberation Sans", sans-serif' font-size="16" font-weight="normal" fill="#111" text-anchor="start" >x</text>
<text x="430" y="207.8" font-family='"Liberation Sans", sans-serif' font-size="16" font-weight="normal" fill="#111" text-anchor="start" >z</text>
<polygon points="416.0,233.0 450.0,245.2 416.0,252.2" fill="#ff6e72" stroke="none" stroke-width="0" opacity="1" />
<ellipse cx="415.2" cy="243.2" rx="10.2" ry="30.2" fill="#c7d9dc" opacity="0.62" transform="rotate(3 415.2 243.2)"/>
<ellipse cx="418.6" cy="243.4" rx="10.4" ry="30.4" fill="#dfeaeb" stroke="#c6d6d9" stroke-width="0.7" opacity="0.66" transform="rotate(3 418.6 243.4)"/>
<polygon points="429.0,237.6 450.0,245.2 429.0,250.0" fill="#ff6e72" stroke="none" stroke-width="0" opacity="1" />
<polygon points="450.0,245.2 476.0,218.4 482.0,218.6 482.0,277.0 476.0,275.9" fill="#ff6e72" stroke="none" stroke-width="0" opacity="1" />
<ellipse cx="481.6" cy="247" rx="14.2" ry="54.6" fill="#c9dadd" transform="rotate(2.5 481.6 247)"/>
<ellipse cx="479.2" cy="247" rx="14.2" ry="54.6" fill="#dbe8ea" stroke="#c3d3d6" stroke-width="0.7" transform="rotate(2.5 479.2 247)"/>
<ellipse cx="477.8" cy="247" rx="11.6" ry="51" fill="#e5eeef" opacity="0.75" transform="rotate(2.5 477.8 247)"/>
<polygon points="466.5,225.5 476.0,218.4 486.0,218.8 486.0,278.5 476.0,275.9 466.0,267.0" fill="#fbb4b6" stroke="none" stroke-width="0" opacity="0.85" />
<polygon points="485.0,218.8 524.0,221.2 524.0,280.2 485.0,277.8" fill="#ff6e72" stroke="none" stroke-width="0" opacity="1" />
<path d="M528.3,207.7 L606,213.7 Q610.4,214 613.5,216.4 L628.4,227.6 L628.4,282.2 L613.5,294.6 Q610.4,297 606,296.8 L529,289.8 Q520.4,289 520.2,280 L520.2,216 Q520.4,207.6 528.3,207.7 Z" fill="url(#objg)"/>
<path d="M608,213.9 Q610.4,214 613.5,216.4 L628.4,227.6 L628.4,282.2 L613.5,294.6 Q610.4,297 608,296.9 Q617,255 608,213.9Z" fill="#171717"/>
<path d="M526,209.6 Q560,210.5 607,215.6" stroke="#4e4e4e" stroke-width="1.6" fill="none" opacity="0.8"/>
<text x="533.4" y="310.9" font-family='"Liberation Sans", sans-serif' font-size="14.35" font-weight="normal" fill="#111" text-anchor="start" >Objective</text>
<ellipse cx="628.9" cy="255" rx="1.6" ry="27.3" fill="#f02222"/>
<polygon points="628.4,227.6 667.8,256.6 628.4,282.2" fill="#ff2424" stroke="none" stroke-width="0" opacity="1" />
<polygon points="637.8,191.9 650.5,193.8 648.6,202.0 634.7,200.8" fill="#b6c6c1" stroke="none" stroke-width="0" opacity="0.92" />
<polygon points="634.7,200.8 648.6,202.0 641.2,319.2 626.2,322.3" fill="#cdd9d5" stroke="none" stroke-width="0" opacity="0.7" />
<polygon points="648.6,202.0 650.5,193.8 645.7,306.5 641.2,319.2" fill="#a7b8b3" stroke="none" stroke-width="0" opacity="0.85" />
<polygon points="626.2,322.3 641.2,319.2 641.6,323.6 626.4,326.0" fill="#b3c4bf" stroke="none" stroke-width="0" opacity="0.9" />
<rect x="666.3" y="241.2" width="13.5" height="33.8" fill="none" stroke="#111" stroke-width="1.3" stroke-dasharray="4.5,3"/>
<circle cx="673.5" cy="252.9" r="1" fill="#3c9a2a"/>
<circle cx="673.5" cy="256" r="1" fill="#3c9a2a"/>
<circle cx="673.5" cy="259.2" r="1" fill="#3c9a2a"/>
<circle cx="673.5" cy="262.3" r="1" fill="#3c9a2a"/>
<polygon points="238.0,427.0 273.0,397.6 355.0,407.0 326.0,441.0" fill="#4a4a4a" stroke="none" stroke-width="0" opacity="1" />
<polygon points="238.0,427.0 326.0,441.0 326.0,451.2 239.0,438.6" fill="#2b2b2b" stroke="none" stroke-width="0" opacity="1" />
<polygon points="326.0,441.0 355.0,407.0 355.0,417.0 326.0,451.2" fill="#383838" stroke="none" stroke-width="0" opacity="1" />
<polygon points="260.0,416.4 277.6,399.0 334.0,406.0 319.0,422.4" fill="#1b1b1b" stroke="none" stroke-width="0" opacity="1" />
<polygon points="260.0,416.4 319.0,422.4 319.0,427.6 260.0,421.0" fill="#141414" stroke="none" stroke-width="0" opacity="1" />
<polygon points="319.0,422.4 334.0,406.0 334.0,410.5 319.0,427.6" fill="#1f1f1f" stroke="none" stroke-width="0" opacity="1" />
<polygon points="264.4,413.2 278.4,400.2 331.6,406.5 319,420.8" fill="#b8b8b8"/>
<polygon points="264.4,413.2 278.4,400.2 331.6,406.5 319,420.8" fill="#000" filter="url(#slmnoise)" opacity="0.55"/>
<path d="M319,422.4 L330,412 L347,414.4 Q353,417 351,421 L342,432 Q339.5,434.5 336.5,432 L335,425.5 Z" fill="#c87a3c"/>
<path d="M342,432 Q339.5,434.5 336.5,432 L335,425.5 L339,424.2 Q342,428 342,432Z" fill="#7d4520"/>
<path d="M330,412 L347,414.4 Q351,415.6 351.6,418" stroke="#dc9a5a" stroke-width="0.8" fill="none"/>
<polygon points="240.9,333.0 254.2,325.2 286.5,378.6 288.2,375.0 307.2,375.0 307.2,406.4 300.0,411.0 292.0,413.0" fill="#ff7c80" stroke="none" stroke-width="0" opacity="1" />
<polygon points="289.0,406.0 307.2,401.0 307.2,406.4 300.0,411.0 292.0,413.0 288.0,407.5" fill="#ffa0a2" stroke="none" stroke-width="0" opacity="0.55" />
<polygon points="248.2,333.2 253.0,330.4 262.4,346.6 266.3,344.4 265.1,357.7 254.4,351.2 258.0,349.2" fill="#cf2026" stroke="none" stroke-width="0" opacity="1" />
<polygon points="308.5,347.5 341.3,351.1 341.3,366.9 308.5,365.7" fill="#ff7c80" stroke="none" stroke-width="0" opacity="1" />
<text x="273.1" y="459.9" font-family='"Liberation Sans", sans-serif' font-size="14" font-weight="normal" fill="#111" text-anchor="start" >SLM</text>
<polygon points="278.0,343.9 286.2,337.3 317.2,339.0 308.7,345.0" fill="#b2b0b0" stroke="none" stroke-width="0" opacity="1" />
<polygon points="278.0,343.9 308.7,345.0 308.7,375.4 278.0,372.9" fill="#a3a0a0" stroke="none" stroke-width="0" opacity="1" />
<polygon points="308.7,345.0 317.2,339.0 317.2,368.0 308.7,375.4" fill="#b39c9c" stroke="none" stroke-width="0" opacity="1" />
<polygon points="288.2,344.3 306.5,344.9 306.5,375.2 288.2,373.8" fill="#e58e91" stroke="none" stroke-width="0" opacity="1" />
<polygon points="278.0,352.0 288.2,364.0 288.2,373.8 278.0,372.9" fill="#c88486" stroke="none" stroke-width="0" opacity="1" />
<path d="M308.7,347.5 L317.2,348.4 L317.2,363.5 L308.7,365.7 Q306,356 308.7,347.5Z" fill="#f3878a"/>
<polygon points="288.2,339.2 306.5,339.8 306.5,344.9 288.2,344.3" fill="#eaa3a5" stroke="none" stroke-width="0" opacity="1" />
<line x1="278" y1="372.9" x2="317.2" y2="339" stroke="#8d7f7f" stroke-width="0.9" opacity="0.7"/>
<polygon points="340.6,307.3 351.5,299.0 388.1,301.5 378.0,309.8" fill="#d23a40" stroke="none" stroke-width="0" opacity="1" />
<polygon points="340.6,307.3 378.0,309.8 378.0,393.2 340.6,388.0" fill="#c3282f" stroke="none" stroke-width="0" opacity="1" />
<polygon points="378.0,309.8 388.1,301.5 388.1,350.0 378.0,362.0" fill="#d63c42" stroke="none" stroke-width="0" opacity="1" />
<rect x="357.3" y="292.5" width="8.4" height="12.5" rx="1" fill="#b98a3a"/>
<rect x="356.6" y="291.6" width="9.8" height="3.2" rx="1" fill="#d6ae5c"/>
<rect x="356.6" y="301.6" width="9.8" height="3.6" rx="1" fill="#9a6f2a"/>
<polygon points="367.9,364.7 390.7,341.9 428.6,345.2 405.8,371.0" fill="#db4247" stroke="none" stroke-width="0" opacity="1" />
<polygon points="367.9,364.7 405.8,371.0 405.8,409.0 367.9,403.0" fill="#cc2c33" stroke="none" stroke-width="0" opacity="1" />
<polygon points="405.8,371.0 428.6,345.2 428.6,378.0 405.8,409.0" fill="#d2363c" stroke="none" stroke-width="0" opacity="1" />
<ellipse cx="423" cy="367" rx="2.2" ry="7.5" fill="#e9c9c9" transform="rotate(8 423 367)"/>
<g transform="rotate(-35 381 389)"><rect x="376" y="384" width="12" height="9.5" rx="1.5" fill="#c9a04a"/><rect x="374.5" y="383" width="5" height="11.5" rx="1.5" fill="#e0bc68"/><ellipse cx="376" cy="388.8" rx="2.2" ry="3.6" fill="#6b4a18"/></g>
<text x="391.5" y="423.6" font-family='"Liberation Sans", sans-serif' font-size="14" font-weight="normal" fill="#111" text-anchor="start" >AOD</text>
<path d="M421,358.9 L470,364.4 Q475,369 470.5,374.2 L421,378.6 Z" fill="#ff7676" opacity="0.95"/>
<polygon points="438.7,368.5 448.3,362.6 448.3,366.2 467.8,368.3 467.8,373.6 448.3,371.6 448.3,375.4" fill="#d42a2a" stroke="none" stroke-width="0" opacity="1" />
<path d="M512,34.6 Q560,18 606,31" stroke="#111" stroke-width="1.5" fill="none"/>
<polygon points="613.5,35.2 604.0,27.2 602.8,35.2" fill="#111" stroke="none" stroke-width="0" opacity="1" />
<text x="520.5" y="20.8" font-family='"Liberation Sans", sans-serif' font-size="13.7" font-weight="normal" fill="#111" text-anchor="start" >Rearrangement</text>
<rect x="428.0" y="35.5" width="130.9" height="113" fill="#041004"/>
<rect x="428.0" y="35.5" width="130.9" height="113" filter="url(#gnoise)" opacity="0.9"/>
<rect x="579.2" y="35.5" width="130.2" height="113" fill="#041004"/>
<rect x="579.2" y="35.5" width="130.2" height="113" filter="url(#gnoise)" opacity="0.9"/>
<circle cx="441.6" cy="53.6" r="2.596" fill="url(#spot)" opacity="0.8"/>
<circle cx="467.6" cy="53.1" r="2.7139999999999995" fill="url(#spot)" opacity="0.85"/>
<circle cx="522.5" cy="53.8" r="2.596" fill="url(#spot)" opacity="0.7"/>
<circle cx="548.5" cy="53.8" r="2.832" fill="url(#spot)" opacity="0.85"/>
<circle cx="499" cy="65.7" r="3.54" fill="url(#spot)" opacity="1"/>
<circle cx="527.5" cy="65.7" r="3.304" fill="url(#spot)" opacity="1"/>
<circle cx="440.8" cy="80.4" r="3.4219999999999997" fill="url(#spot)" opacity="1"/>
<circle cx="468.6" cy="79.9" r="2.36" fill="url(#spot)" opacity="0.6"/>
<circle cx="494.2" cy="80.4" r="3.304" fill="url(#spot)" opacity="0.9"/>
<circle cx="453.7" cy="92.3" r="3.54" fill="url(#spot)" opacity="1"/>
<circle cx="540.9" cy="92.8" r="3.54" fill="url(#spot)" opacity="1"/>
<circle cx="495.2" cy="106.2" r="2.7139999999999995" fill="url(#spot)" opacity="0.9"/>
<circle cx="548.5" cy="107.4" r="2.596" fill="url(#spot)" opacity="0.7"/>
<circle cx="497.2" cy="116.9" r="3.54" fill="url(#spot)" opacity="1"/>
<circle cx="494.2" cy="133.3" r="3.4219999999999997" fill="url(#spot)" opacity="1"/>
<circle cx="520.5" cy="133.3" r="3.068" fill="url(#spot)" opacity="0.95"/>
<circle cx="547.8" cy="133.8" r="2.7139999999999995" fill="url(#spot)" opacity="0.85"/>
<circle cx="465.1" cy="65.7" r="5.7" fill="none" stroke="#cf0f18" stroke-width="1.05"/>
<circle cx="499" cy="65.7" r="5.7" fill="none" stroke="#cf0f18" stroke-width="1.05"/>
<circle cx="527.5" cy="65.7" r="5.7" fill="none" stroke="#cf0f18" stroke-width="1.05"/>
<circle cx="453.7" cy="92.3" r="5.7" fill="none" stroke="#cf0f18" stroke-width="1.05"/>
<circle cx="480" cy="92.8" r="5.7" fill="none" stroke="#cf0f18" stroke-width="1.05"/>
<circle cx="512.4" cy="92.8" r="5.7" fill="none" stroke="#cf0f18" stroke-width="1.05"/>
<circle cx="540.9" cy="92.8" r="5.7" fill="none" stroke="#cf0f18" stroke-width="1.05"/>
<circle cx="466.9" cy="116.9" r="5.7" fill="none" stroke="#cf0f18" stroke-width="1.05"/>
<circle cx="497.5" cy="116.9" r="5.7" fill="none" stroke="#cf0f18" stroke-width="1.05"/>
<circle cx="526.8" cy="116.9" r="5.7" fill="none" stroke="#cf0f18" stroke-width="1.05"/>
<line x1="444.1" y1="53.9" x2="459.6" y2="62.2" stroke="#e01818" stroke-width="0.9"/>
<polygon points="459.6,62.2 455.6,62.0 457.2,59.0" fill="#e01818" stroke="none" stroke-width="0" opacity="1" />
<line x1="470.7" y1="82.2" x2="477.2" y2="88.2" stroke="#e01818" stroke-width="0.9"/>
<polygon points="477.2,88.2 473.4,87.0 475.7,84.5" fill="#e01818" stroke="none" stroke-width="0" opacity="1" />
<line x1="497.8" y1="103.4" x2="507.5" y2="96" stroke="#e01818" stroke-width="0.9"/>
<polygon points="507.5,96.0 505.7,99.5 503.6,96.8" fill="#e01818" stroke="none" stroke-width="0" opacity="1" />
<line x1="490.9" y1="130.8" x2="472.8" y2="121" stroke="#e01818" stroke-width="0.9"/>
<polygon points="472.8,121.0 476.8,121.2 475.2,124.2" fill="#e01818" stroke="none" stroke-width="0" opacity="1" />
<line x1="545.2" y1="131.3" x2="532.8" y2="121" stroke="#e01818" stroke-width="0.9"/>
<polygon points="532.8,121.0 536.7,122.0 534.5,124.6" fill="#e01818" stroke="none" stroke-width="0" opacity="1" />
<circle cx="621.4" cy="66.2" r="3.54" fill="url(#spot)" opacity="1"/>
<circle cx="650.4" cy="66.2" r="3.54" fill="url(#spot)" opacity="1"/>
<circle cx="679.5" cy="65.7" r="3.54" fill="url(#spot)" opacity="1"/>
<circle cx="605.7" cy="92.8" r="3.54" fill="url(#spot)" opacity="1"/>
<circle cx="634" cy="92.8" r="3.54" fill="url(#spot)" opacity="1"/>
<circle cx="663.1" cy="92.5" r="3.54" fill="url(#spot)" opacity="1"/>
<circle cx="692.1" cy="92.8" r="3.54" fill="url(#spot)" opacity="1"/>
<circle cx="620.1" cy="118.1" r="3.54" fill="url(#spot)" opacity="1"/>
<circle cx="648.7" cy="118" r="3.54" fill="url(#spot)" opacity="1"/>
<circle cx="677" cy="118" r="3.54" fill="url(#spot)" opacity="1"/>
<text x="620.3" y="53.1" font-family='"Liberation Serif", serif' font-size="12.6" font-weight="normal" fill="#f4f4f4" text-anchor="start" >5.6 μm</text>
<line x1="622" y1="58.6" x2="648" y2="58.6" stroke="#f0f0f0" stroke-width="0.8"/>
<polygon points="620.1,58.6 623.6,56.9 623.6,60.3" fill="#f0f0f0" stroke="none" stroke-width="0" opacity="1" />
<polygon points="649.8,58.6 646.3,56.9 646.3,60.3" fill="#f0f0f0" stroke="none" stroke-width="0" opacity="1" />
<path d="M432.8,150.2 C520,165 610,190 666.6,241" stroke="#111" stroke-width="1.3" stroke-dasharray="5,3.4" fill="none"/>
<path d="M706,150.5 C676,182 676,200 679.4,241" stroke="#111" stroke-width="1.3" stroke-dasharray="5,3.4" fill="none"/>
<path d="M52,270.5 C56.5,286 50,300 28.5,318.6" stroke="#111" stroke-width="1.4" stroke-dasharray="5,3.4" fill="none"/>
<path d="M91.5,274.2 Q160,301 224.5,318.9" stroke="#111" stroke-width="1.4" stroke-dasharray="5,3.4" fill="none"/>
<rect x="19.2" y="319.85" width="216" height="126.95" rx="11.5" fill="#f7f7f7" stroke="#444" stroke-width="1.7"/>
<text x="23.3" y="343.6" font-family='"Liberation Sans", sans-serif' font-size="10.6" font-weight="normal" fill="#b22a45" text-anchor="start" >Trapping</text>
<text x="22.8" y="355.7" font-family='"Liberation Sans", sans-serif' font-size="10.6" font-weight="normal" fill="#b22a45" text-anchor="start" >830 nm</text>
<text x="70.3" y="338.5" font-family='"Liberation Sans", sans-serif' font-size="10.4" font-weight="normal" fill="#111" text-anchor="start" >AOM</text>
<text x="25.8" y="394.1" font-family='"Liberation Sans", sans-serif' font-size="10.6" font-weight="normal" fill="#d11fa8" text-anchor="start" >Addressing</text>
<text x="25.8" y="406.3" font-family='"Liberation Sans", sans-serif' font-size="10.6" font-weight="normal" fill="#d11fa8" text-anchor="start" >795nm</text>
<path d="M32.9,357.7 L70.3,362.3 L124.4,363.2" stroke="#bf0f2c" stroke-width="2.4" fill="none"/>
<path d="M42.3,409.6 L69.7,414.3 L110.8,414.8 L126,418.5" stroke="#ff42c2" stroke-width="2.5" fill="none"/>
<path d="M42.3,427.5 L69.7,422.8 L110.8,421.8 L126,418.5" stroke="#ff42c2" stroke-width="2.5" fill="none"/>
<rect x="70.3" y="346.1" width="19.6" height="33" rx="3.5" fill="#fbe4ab" fill-opacity="0.88" stroke="#111" stroke-width="1.1"/>
<line x1="73.5" y1="350.8" x2="86.9" y2="350.8" stroke="#111" stroke-width="0.9"/>
<line x1="73.5" y1="357.8" x2="86.9" y2="357.8" stroke="#111" stroke-width="0.9"/>
<line x1="73.5" y1="364.8" x2="86.9" y2="364.8" stroke="#111" stroke-width="0.9"/>
<line x1="73.5" y1="371.8" x2="86.9" y2="371.8" stroke="#111" stroke-width="0.9"/>
<rect x="76.89999999999999" y="340.70000000000005" width="5.6" height="5" fill="#f4e11c" stroke="#111" stroke-width="0.6"/>
<rect x="70" y="402" width="19.6" height="33" rx="3.5" fill="#fbe4ab" fill-opacity="0.88" stroke="#111" stroke-width="1.1"/>
<line x1="73.2" y1="406.7" x2="86.6" y2="406.7" stroke="#111" stroke-width="0.9"/>
<line x1="73.2" y1="413.7" x2="86.6" y2="413.7" stroke="#111" stroke-width="0.9"/>
<line x1="73.2" y1="420.7" x2="86.6" y2="420.7" stroke="#111" stroke-width="0.9"/>
<line x1="73.2" y1="427.7" x2="86.6" y2="427.7" stroke="#111" stroke-width="0.9"/>
<rect x="77.2" y="435.3" width="5.6" height="5.4" fill="#f4e11c" stroke="#111" stroke-width="0.6"/>
<text x="128.4" y="355.7" font-family='"Liberation Sans", sans-serif' font-size="10.5" font-weight="normal" fill="#111" text-anchor="start" >FC</text>
<rect x="124.4" y="358.9" width="19.6" height="8.3" fill="#fff" stroke="#222" stroke-width="0.9"/>
<text x="95" y="411.8" font-family='"Liberation Sans", sans-serif' font-size="10" font-weight="normal" fill="#111" text-anchor="start" >+1</text>
<text x="96" y="435.2" font-family='"Liberation Sans", sans-serif' font-size="10" font-weight="normal" fill="#111" text-anchor="start" >-1</text>
<text x="117.5" y="406.8" font-family='"Liberation Sans", sans-serif' font-size="10.5" font-weight="normal" fill="#111" text-anchor="start" >BS</text>
<rect x="111.3" y="408.6" width="22" height="20" fill="#ccd6ea" fill-opacity="0.75" stroke="#8a93a8" stroke-width="0.7"/>
<rect x="124.5" y="414.3" width="19.4" height="8.5" fill="#fff" stroke="#222" stroke-width="0.9"/>
<rect x="125" y="414.8" width="8" height="7.5" fill="#c5d0e6" opacity="0.8"/>
<path d="M144.1,363.2 C160,364 160,382.6 180,382.6" stroke="#12a84e" stroke-width="1.6" fill="none"/>
<path d="M143.9,418.5 C160,418 160,397.7 180,397.7" stroke="#12a84e" stroke-width="1.6" fill="none"/>
<text x="144.4" y="393.9" font-family='"Liberation Sans", sans-serif' font-size="8.2" font-weight="normal" fill="#2a9a6a" text-anchor="start" >PM Fiber</text>
<polygon points="180.0,365.7 200.2,374.8 200.2,403.8 180.0,414.6" fill="url(#wdmg)" stroke="#111" stroke-width="1.1" opacity="1" />
<line x1="180.6" y1="382.6" x2="199.6" y2="390.4" stroke="#d86a7a" stroke-width="1.6"/>
<line x1="180.6" y1="397.7" x2="199.6" y2="391.8" stroke="#f59ad8" stroke-width="1.6"/>
<text x="172.2" y="364" font-family='"Liberation Sans", sans-serif' font-size="10.8" font-weight="normal" fill="#111" text-anchor="start" >WDM</text>
<line x1="200.8" y1="391" x2="232" y2="391" stroke="#4b7d2c" stroke-width="1.8"/>
<text x="201" y="387" font-family='"Liberation Sans", sans-serif' font-size="8.1" font-weight="normal" fill="#4b8a35" text-anchor="start" >SM Fiber</text>
<rect x="529.28" y="447.43" width="4.12" height="1.17" fill="#0cc6c6" stroke="#0a5f66" stroke-width="0.5"/>
<rect x="533.40" y="431.49" width="4.12" height="17.11" fill="#0cc6c6" stroke="#0a5f66" stroke-width="0.5"/>
<rect x="537.52" y="389.57" width="4.12" height="59.03" fill="#0cc6c6" stroke="#0a5f66" stroke-width="0.5"/>
<rect x="541.64" y="353.37" width="4.12" height="95.23" fill="#0cc6c6" stroke="#0a5f66" stroke-width="0.5"/>
<rect x="545.76" y="360.20" width="4.12" height="88.40" fill="#0cc6c6" stroke="#0a5f66" stroke-width="0.5"/>
<rect x="549.88" y="400.43" width="4.12" height="48.17" fill="#0cc6c6" stroke="#0a5f66" stroke-width="0.5"/>
<rect x="554.00" y="435.24" width="4.12" height="13.36" fill="#0cc6c6" stroke="#0a5f66" stroke-width="0.5"/>
<rect x="558.12" y="445.15" width="4.12" height="3.45" fill="#0cc6c6" stroke="#0a5f66" stroke-width="0.5"/>
<rect x="562.24" y="448.01" width="4.12" height="0.59" fill="#0cc6c6" stroke="#0a5f66" stroke-width="0.5"/>
<rect x="611.68" y="447.87" width="4.12" height="0.73" fill="#0cc6c6" stroke="#0a5f66" stroke-width="0.5"/>
<rect x="615.80" y="446.25" width="4.12" height="2.35" fill="#0cc6c6" stroke="#0a5f66" stroke-width="0.5"/>
<rect x="619.92" y="444.56" width="4.12" height="4.04" fill="#0cc6c6" stroke="#0a5f66" stroke-width="0.5"/>
<rect x="624.04" y="441.62" width="4.12" height="6.98" fill="#0cc6c6" stroke="#0a5f66" stroke-width="0.5"/>
<rect x="628.16" y="435.90" width="4.12" height="12.70" fill="#0cc6c6" stroke="#0a5f66" stroke-width="0.5"/>
<rect x="632.28" y="427.60" width="4.12" height="21.00" fill="#0cc6c6" stroke="#0a5f66" stroke-width="0.5"/>
<rect x="636.40" y="419.23" width="4.12" height="29.37" fill="#0cc6c6" stroke="#0a5f66" stroke-width="0.5"/>
<rect x="640.52" y="406.89" width="4.12" height="41.71" fill="#0cc6c6" stroke="#0a5f66" stroke-width="0.5"/>
<rect x="644.64" y="397.57" width="4.12" height="51.03" fill="#0cc6c6" stroke="#0a5f66" stroke-width="0.5"/>
<rect x="648.76" y="396.84" width="4.12" height="51.76" fill="#0cc6c6" stroke="#0a5f66" stroke-width="0.5"/>
<rect x="652.88" y="399.18" width="4.12" height="49.42" fill="#0cc6c6" stroke="#0a5f66" stroke-width="0.5"/>
<rect x="657.00" y="407.56" width="4.12" height="41.04" fill="#0cc6c6" stroke="#0a5f66" stroke-width="0.5"/>
<rect x="661.12" y="414.90" width="4.12" height="33.70" fill="#0cc6c6" stroke="#0a5f66" stroke-width="0.5"/>
<rect x="665.24" y="425.91" width="4.12" height="22.69" fill="#0cc6c6" stroke="#0a5f66" stroke-width="0.5"/>
<rect x="669.36" y="434.28" width="4.12" height="14.32" fill="#0cc6c6" stroke="#0a5f66" stroke-width="0.5"/>
<rect x="673.48" y="439.94" width="4.12" height="8.66" fill="#0cc6c6" stroke="#0a5f66" stroke-width="0.5"/>
<rect x="677.60" y="444.27" width="4.12" height="4.33" fill="#0cc6c6" stroke="#0a5f66" stroke-width="0.5"/>
<rect x="681.72" y="446.62" width="4.12" height="1.98" fill="#0cc6c6" stroke="#0a5f66" stroke-width="0.5"/>
<rect x="685.84" y="447.57" width="4.12" height="1.03" fill="#0cc6c6" stroke="#0a5f66" stroke-width="0.5"/>
<rect x="689.96" y="447.94" width="4.12" height="0.66" fill="#0cc6c6" stroke="#0a5f66" stroke-width="0.5"/>
<rect x="520.6" y="349.3" width="183" height="99.3" fill="none" stroke="#111" stroke-width="1.3"/>
<line x1="518" y1="448.6" x2="520.6" y2="448.6" stroke="#111" stroke-width="0.9"/>
<text x="517.6" y="451.8" font-family='"Liberation Sans", sans-serif' font-size="9" font-weight="normal" fill="#111" text-anchor="end" >0</text>
<line x1="518" y1="419.2" x2="520.6" y2="419.2" stroke="#111" stroke-width="0.9"/>
<text x="517.6" y="422.4" font-family='"Liberation Sans", sans-serif' font-size="9" font-weight="normal" fill="#111" text-anchor="end" >400</text>
<line x1="518" y1="389.9" x2="520.6" y2="389.9" stroke="#111" stroke-width="0.9"/>
<text x="517.6" y="393.1" font-family='"Liberation Sans", sans-serif' font-size="9" font-weight="normal" fill="#111" text-anchor="end" >800</text>
<line x1="518" y1="360.5" x2="520.6" y2="360.5" stroke="#111" stroke-width="0.9"/>
<text x="517.6" y="363.7" font-family='"Liberation Sans", sans-serif' font-size="9" font-weight="normal" fill="#111" text-anchor="end" >1200</text>
<line x1="554.0" y1="448.6" x2="554.0" y2="451.2" stroke="#111" stroke-width="0.9"/>
<text x="554.0" y="459.7" font-family='"Liberation Sans", sans-serif' font-size="9" font-weight="normal" fill="#111" text-anchor="middle" >50</text>
<line x1="595.2" y1="448.6" x2="595.2" y2="451.2" stroke="#111" stroke-width="0.9"/>
<text x="595.2" y="459.7" font-family='"Liberation Sans", sans-serif' font-size="9" font-weight="normal" fill="#111" text-anchor="middle" >100</text>
<line x1="636.4" y1="448.6" x2="636.4" y2="451.2" stroke="#111" stroke-width="0.9"/>
<text x="636.4" y="459.7" font-family='"Liberation Sans", sans-serif' font-size="9" font-weight="normal" fill="#111" text-anchor="middle" >150</text>
<line x1="677.6" y1="448.6" x2="677.6" y2="451.2" stroke="#111" stroke-width="0.9"/>
<text x="677.6" y="459.7" font-family='"Liberation Sans", sans-serif' font-size="9" font-weight="normal" fill="#111" text-anchor="middle" >200</text>
<text x="611.6" y="468.8" font-family='"Liberation Sans", sans-serif' font-size="12.8" font-weight="normal" fill="#111" text-anchor="middle" >Detector counts</text>
<text transform="translate(500.4 399.4) rotate(-90)" font-family='"Liberation Sans", sans-serif' font-size="12.3" fill="#111" text-anchor="middle">Events</text>
</svg>
</body></html>
